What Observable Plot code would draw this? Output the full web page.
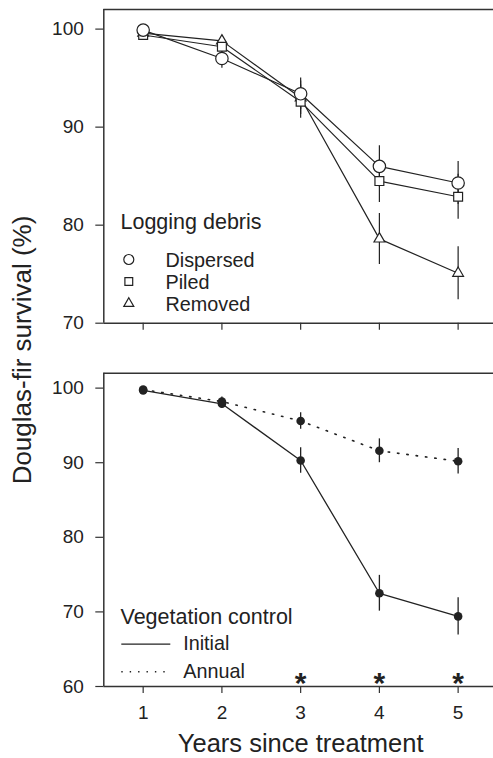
<!DOCTYPE html>
<html>
<head>
<meta charset="utf-8">
<script src="https://cdn.jsdelivr.net/npm/d3@7"></script>
<script src="https://cdn.jsdelivr.net/npm/@observablehq/plot@0.6"></script>
<style>
  html, body { margin: 0; padding: 0; background: #fff; }
  #wrap { position: relative; width: 493px; height: 758px; overflow: hidden; font-family: "Liberation Sans", Arial, Helvetica, sans-serif; color: #222; }
  #top, #bottom { position: absolute; left: 0; }
  #top { top: 0; }
  #bottom { top: 335px; }
  #ytitle { position: absolute; left: 21.7px; top: 350px; transform: translate(-50%, -50%) rotate(-90deg); white-space: nowrap; font-size: 26px; line-height: 1; }
  svg { overflow: visible; }
</style>
</head>
<body>
<div id="wrap">
  <div id="top"></div>
  <div id="bottom"></div>
  <div id="ytitle">Douglas-fir survival (%)</div>
</div>
<script>
// ---- data ----
const years = [1, 2, 3, 4, 5];

const debrisLabels = ["Dispersed", "Piled", "Removed"];
const dispersed   = [99.9, 97.0, 93.4, 86.0, 84.3];
const dispersedSE = [0.2, 1.0, 1.6, 2.1, 2.2];
const piled       = [99.4, 98.2, 92.6, 84.5, 82.9];
const piledSE     = [0.2, 0.6, 1.7, 2.2, 2.3];
const removed     = [99.6, 98.8, 93.0, 78.6, 75.1];
const removedSE   = [0.2, 0.5, 1.7, 2.6, 2.7];

const vegLabels = ["Initial", "Annual"];
const initial   = [99.7, 97.9, 90.3, 72.5, 69.4];
const initialSE = [0.3, 0.6, 1.7, 2.4, 2.5];
const annual    = [99.8, 98.2, 95.6, 91.6, 90.2];
const annualSE  = [0.3, 0.6, 1.1, 1.6, 1.7];

const significantYears = [3, 4, 5];

const topTicks = [70, 80, 90, 100];
const bottomTicks = [60, 70, 80, 90, 100];

// ---- helpers ----
const INK = "#222";
const FRAME = "#333";
const FONT = "Liberation Sans, Arial, Helvetica, sans-serif";

function rows(name, vals, se) {
  return years.map((yr, i) => ({series: name, year: yr, value: vals[i], lo: vals[i] - se[i], hi: vals[i] + se[i]}));
}

const debrisData = [
  ...rows("Removed", removed, removedSE),
  ...rows("Piled", piled, piledSE),
  ...rows("Dispersed", dispersed, dispersedSE)
];
const vegData = [
  ...rows("Initial", initial, initialSE),
  ...rows("Annual", annual, annualSE)
];

const symbolOf = {Dispersed: "circle", Piled: "square", Removed: "triangle"};
const rOf = {Dispersed: 6.2, Piled: 5, Removed: 4};
const legendR = {Dispersed: 5, Piled: 4.4, Removed: 3.7};

const xScale = {domain: [0.5, 5.5], range: [103.3, 497]};

// custom horizontal line symbol for the legend swatch
const hLine = {draw(ctx) { ctx.moveTo(-24.5, 0); ctx.lineTo(24.5, 0); }};

// ---- top panel ----
const topMarks = [
  Plot.ruleY([70, 102], {stroke: FRAME, strokeWidth: 1.5}),
  Plot.ruleX([0.5], {stroke: FRAME, strokeWidth: 1.5}),
  Plot.axisY({ticks: topTicks, tickSize: 8, tickPadding: 12, fontSize: 19, stroke: FRAME, strokeWidth: 1.2, label: null, color: INK}),
  Plot.axisX({ticks: years, tickSize: 7, tickFormat: () => "", stroke: FRAME, strokeWidth: 1.2, label: null}),
  Plot.ruleX(debrisData, {x: "year", y1: "lo", y2: "hi", stroke: INK, strokeWidth: 1.2}),
  Plot.line(debrisData, {x: "year", y: "value", z: "series", stroke: INK, strokeWidth: 1.2}),
  ...["Removed", "Piled", "Dispersed"].map(s =>
    Plot.dot(debrisData.filter(d => d.series === s), {x: "year", y: "value", symbol: symbolOf[s], r: rOf[s], fill: "white", stroke: INK, strokeWidth: 1.2})
  ),
  // legend
  Plot.text(["Logging debris"], {frameAnchor: "top-left", dx: 16.7, dy: 213, textAnchor: "start", lineAnchor: "middle", fontSize: 21.5, fill: INK}),
  ...debrisLabels.map((s, i) => Plot.dot([s], {frameAnchor: "top-left", dx: 25, dy: 250 + 22 * i, symbol: symbolOf[s], r: legendR[s], fill: "white", stroke: INK, strokeWidth: 1.2})),
  ...debrisLabels.map((s, i) => Plot.text([s], {frameAnchor: "top-left", dx: 61.7, dy: 251 + 22 * i, textAnchor: "start", lineAnchor: "middle", fontSize: 19.8, fill: INK}))
];

const topPlot = Plot.plot({
  width: 493, height: 335,
  marginTop: 9, marginBottom: 12.3, marginLeft: 103.3, marginRight: 0,
  x: xScale,
  y: {domain: [70, 102]},
  style: {fontFamily: FONT, background: "white", color: INK, overflow: "visible"},
  marks: topMarks
});
document.getElementById("top").appendChild(topPlot);

// ---- bottom panel ----
const bottomMarks = [
  Plot.ruleY([60, 102], {stroke: FRAME, strokeWidth: 1.5}),
  Plot.ruleX([0.5], {stroke: FRAME, strokeWidth: 1.5}),
  Plot.axisY({ticks: bottomTicks, tickSize: 8, tickPadding: 12, fontSize: 19, stroke: FRAME, strokeWidth: 1.2, label: null, color: INK}),
  Plot.axisX({ticks: years, tickSize: 7, tickPadding: 12, fontSize: 19, tickFormat: d3.format("d"), stroke: FRAME, strokeWidth: 1.2, label: null, color: INK}),
  Plot.ruleX(vegData, {x: "year", y1: "lo", y2: "hi", stroke: INK, strokeWidth: 1.3}),
  Plot.line(vegData.filter(d => d.series === "Initial"), {x: "year", y: "value", stroke: INK, strokeWidth: 1.3}),
  Plot.line(vegData.filter(d => d.series === "Annual"), {x: "year", y: "value", stroke: INK, strokeWidth: 1.6, strokeDasharray: "1.4,8"}),
  Plot.dot(vegData, {x: "year", y: "value", r: 4.3, fill: INK, stroke: "none"}),
  Plot.text(significantYears, {x: d => d, frameAnchor: "bottom", dy: -3, text: () => "*", fontSize: 30, fontWeight: "bold", fill: INK, lineAnchor: "middle"}),
  // legend
  Plot.text(["Vegetation control"], {frameAnchor: "top-left", dx: 16.7, dy: 244, textAnchor: "start", lineAnchor: "middle", fontSize: 21.5, fill: INK}),
  Plot.dot([vegLabels[0]], {frameAnchor: "top-left", dx: 42, dy: 271, symbol: hLine, r: 5, fill: "none", stroke: INK, strokeWidth: 1.3}),
  Plot.dot([vegLabels[1]], {frameAnchor: "top-left", dx: 42, dy: 298.5, symbol: hLine, r: 5, fill: "none", stroke: INK, strokeWidth: 1.6, strokeDasharray: "1.4,7"}),
  ...vegLabels.map((s, i) => Plot.text([s], {frameAnchor: "top-left", dx: 79.4, dy: 270.6 + 27.7 * i, textAnchor: "start", lineAnchor: "middle", fontSize: 19.8, fill: INK})),
  // x-axis title
  Plot.text(["Years since treatment"], {frameAnchor: "bottom", dx: 2, dy: 57, lineAnchor: "middle", fontSize: 25.5, fill: INK})
];

const bottomPlot = Plot.plot({
  width: 493, height: 423,
  marginTop: 37.7, marginBottom: 72, marginLeft: 103.3, marginRight: 0,
  x: xScale,
  y: {domain: [60, 102]},
  style: {fontFamily: FONT, background: "white", color: INK, overflow: "visible"},
  marks: bottomMarks
});
document.getElementById("bottom").appendChild(bottomPlot);
</script>
</body>
</html>
